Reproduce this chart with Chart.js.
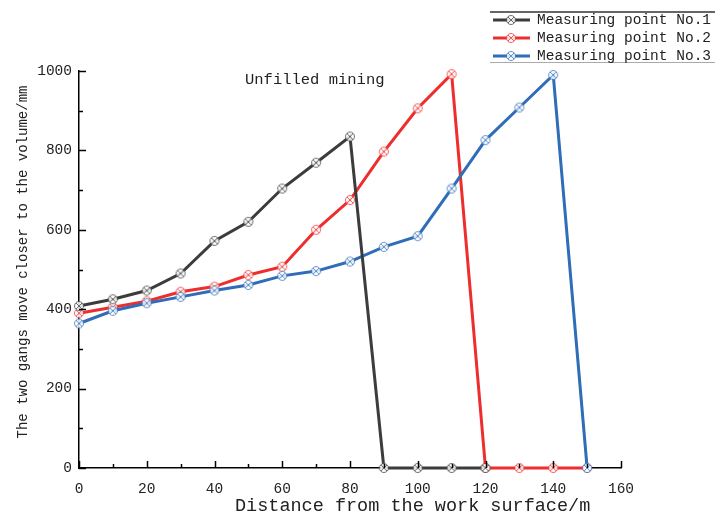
<!DOCTYPE html>
<html><head><meta charset="utf-8">
<script src="https://cdn.jsdelivr.net/npm/chart.js@4/dist/chart.umd.min.js"></script>
<style>html,body{margin:0;padding:0;background:#fff}#wrap{width:715px;height:523px}</style>
</head><body><div id="wrap"><canvas id="c" width="715" height="523"></canvas></div>
<script>
const distances = [0,10,20,30,40,50,60,70,80,90,100,110,120,130,140,150];
const point1 = [408,425,447,490,572,620,704,769,835,0,0,0,0];
const point2 = [390,405,420,444,457,486,507,600,675,797,906,992,0,0,0,0];
const point3 = [364,396,415,431,447,461,484,496,520,557,584,704,826,908,990,0];
const seriesNames = ['Measuring point No.1','Measuring point No.2','Measuring point No.3'];
const xTitle = 'Distance from the work surface/m';
const yTitle = 'The two gangs move closer to the volume/mm';
const note = 'Unfilled mining';
const noteAt = {x: 49, y: 977};

const colors = ['#3c3c3c','#ee2d2d','#2f6db8'];
const FONT = '"Liberation Mono", "DejaVu Sans Mono", monospace';

function marker(color){
  const c = document.createElement('canvas'); c.width = 12; c.height = 12;
  const g = c.getContext('2d');
  g.fillStyle = 'rgba(255,255,255,0.85)';
  g.beginPath(); g.arc(6,6,4.5,0,Math.PI*2); g.fill();
  g.strokeStyle = color; g.globalAlpha = 0.75; g.lineWidth = 1;
  g.beginPath(); g.arc(6,6,4.5,0,Math.PI*2); g.stroke();
  g.beginPath(); g.moveTo(3,3); g.lineTo(9,9); g.moveTo(9,3); g.lineTo(3,9); g.stroke();
  return c;
}
const markers = colors.map(marker);

function mk(vals, i, order){
  return {
    label: seriesNames[i],
    data: vals.map((v,k)=>({x: distances[k], y: v})),
    borderColor: colors[i], backgroundColor: colors[i],
    borderWidth: 3, pointStyle: markers[i], pointRadius: 5,
    tension: 0, clip: false, order: order
  };
}

const deco = {
  id: 'deco',
  afterDraw(chart){
    const {ctx, scales:{x, y}, chartArea:a} = chart;
    ctx.save();
    ctx.strokeStyle = '#000'; ctx.lineWidth = 1.5;
    // inward ticks
    for (let v = 0; v <= 160; v += 10){
      const px = Math.round(x.getPixelForValue(v)) + 0.5;
      const L = v % 20 === 0 ? 7 : 4;
      ctx.beginPath(); ctx.moveTo(px, a.bottom); ctx.lineTo(px, a.bottom - L); ctx.stroke();
    }
    for (let v = 0; v <= 1000; v += 100){
      const py = Math.round(y.getPixelForValue(v)) + 0.5;
      const L = v % 200 === 0 ? 7 : 4;
      ctx.beginPath(); ctx.moveTo(a.left, py); ctx.lineTo(a.left + L, py); ctx.stroke();
    }
    // titles
    ctx.fillStyle = '#222';
    ctx.font = '18.5px ' + FONT;
    ctx.textAlign = 'left'; ctx.textBaseline = 'middle';
    ctx.fillText(xTitle, 235, 506);
    ctx.save();
    ctx.translate(23, 262); ctx.rotate(-Math.PI/2);
    ctx.font = '14px ' + FONT; ctx.textAlign = 'center';
    ctx.fillText(yTitle, 0, 0);
    ctx.restore();
    // annotation
    ctx.font = '15.5px ' + FONT; ctx.textAlign = 'left';
    ctx.fillText(note, x.getPixelForValue(noteAt.x), y.getPixelForValue(noteAt.y));
    // legend
    ctx.strokeStyle = '#333'; ctx.lineWidth = 1.5;
    ctx.beginPath(); ctx.moveTo(490, 12); ctx.lineTo(715, 12); ctx.stroke();
    ctx.strokeStyle = '#aaa'; ctx.lineWidth = 1;
    ctx.beginPath(); ctx.moveTo(490, 62.5); ctx.lineTo(715, 62.5); ctx.stroke();
    ctx.font = '14.5px ' + FONT;
    seriesNames.forEach((n, i) => {
      const yy = 20 + i * 18;
      ctx.strokeStyle = colors[i]; ctx.lineWidth = 3;
      ctx.beginPath(); ctx.moveTo(493, yy); ctx.lineTo(530, yy); ctx.stroke();
      ctx.drawImage(markers[i], 505, yy - 6);
      ctx.fillStyle = '#222';
      ctx.fillText(n, 537, yy);
    });
    ctx.restore();
  }
};

new Chart(document.getElementById('c'), {
  type: 'line',
  data: { datasets: [mk(point1,0,0), mk(point2,1,2), mk(point3,2,1)] },
  options: {
    responsive: false, animation: false,
    layout: { padding: { top: 71, right: 94, left: 0, bottom: 0 } },
    plugins: { legend: { display: false }, tooltip: { enabled: false } },
    scales: {
      x: {
        type: 'linear', min: 0, max: 160,
        afterFit(s){ s.height = 55; },
        grid: { display: true, drawOnChartArea: false, drawTicks: false },
        border: { display: true, color: '#000', width: 1.5 },
        ticks: { stepSize: 10, autoSkip: false, maxRotation: 0, padding: 12, color: '#222',
          font: { family: FONT, size: 14.5 },
          callback: v => v % 20 === 0 ? String(v) : '' }
      },
      y: {
        min: 0, max: 1000,
        afterFit(s){ s.width = 79; },
        grid: { display: true, drawOnChartArea: false, drawTicks: false },
        border: { display: true, color: '#000', width: 1.5 },
        ticks: { stepSize: 100, autoSkip: false, padding: 7, color: '#222',
          font: { family: FONT, size: 14.5 },
          callback: v => v % 200 === 0 ? String(v) : '' }
      }
    }
  },
  plugins: [deco]
});
</script>
</body></html>
